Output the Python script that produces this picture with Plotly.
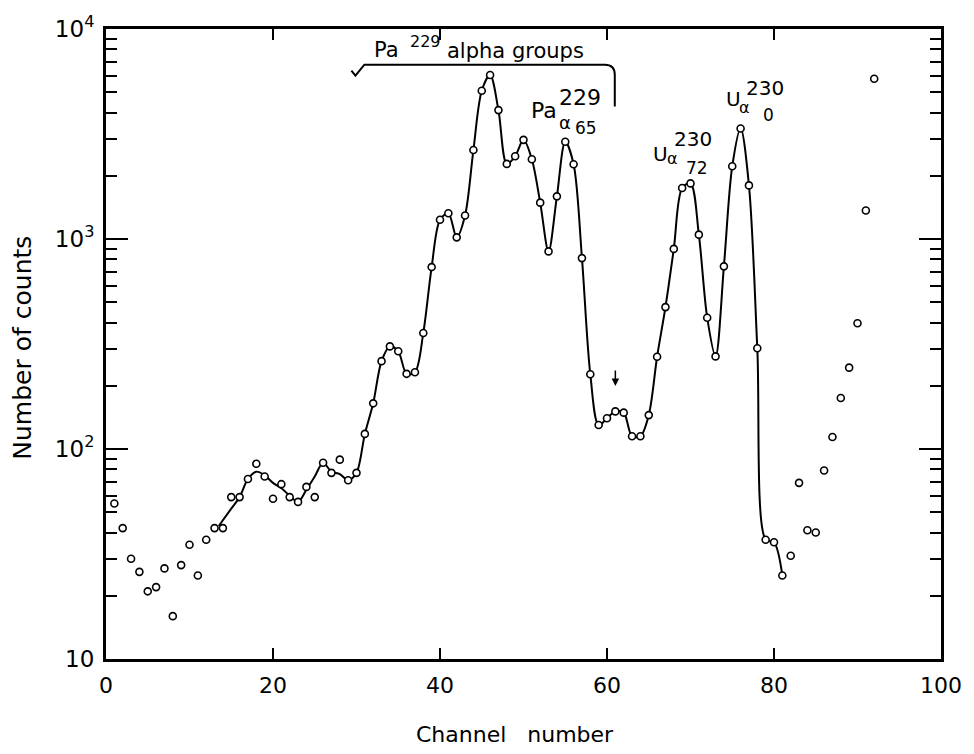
import plotly.graph_objects as go

# ---------------- data ----------------
channels = list(range(1, 93))
counts = [55, 42, 30, 26, 21, 22, 27, 16, 28, 35,
          25, 37, 42, 42, 59, 59, 72, 85, 74, 58,
          68, 59, 56, 66, 59, 86, 77, 89, 71, 77,
          118, 165, 262, 308, 292, 228, 232, 357, 735, 1236,
          1327, 1018, 1294, 2653, 5080, 6040, 4110, 2278, 2478, 2966,
          2397, 1490, 873, 1596, 2904, 2271, 811, 227, 130, 140,
          151, 149, 115, 115, 145, 275, 474, 897, 1750, 1840,
          1049, 422, 276, 741, 2221, 3360, 1800, 302, 37, 36,
          25, 31, 69, 41, 40, 79, 114, 175, 244, 397,
          1366, 5800]

# hand-drawn smooth curve through the spectrum (channel, counts)
curve_ch = [13.5, 15, 16, 17, 18, 19, 20, 21, 22, 23, 24, 25, 26, 27, 28, 29, 30,
            31, 32, 33, 34, 35, 36, 37, 38, 39, 40, 41, 42, 43, 44, 45, 46, 47, 48,
            49, 50, 51, 52, 53, 54, 55, 56, 57, 58, 59, 60, 61, 62, 63, 64, 65, 66,
            67, 68, 69, 70, 71, 72, 73, 74, 75, 76, 77, 78, 79, 80, 81]
curve_val = [43, 52, 59, 72, 78, 75, 69, 65, 60, 56, 64, 74, 86, 78, 76, 71, 77,
             118, 165, 262, 308, 292, 228, 232, 357, 735, 1236, 1327, 1018, 1294, 2653, 5080, 6040, 4110, 2278,
             2478, 2966, 2397, 1490, 873, 1596, 2904, 2271, 811, 227, 130, 140, 151, 149, 115, 115, 145, 275,
             474, 897, 1750, 1840, 1049, 422, 276, 741, 2221, 3360, 1800, 302, 37, 36, 25]

x_ticks = [0, 20, 40, 60, 80, 100]
y_ticks = [10, 100, 1000, 10000]
y_ticktext = ["10", "10<sup>2</sup>", "10<sup>3</sup>", "10<sup>4</sup>"]
y_minor = [m * 10 ** d for d in (1, 2, 3) for m in range(2, 10)]

FONT = "DejaVu Sans"
W, H = 974, 754
L, R, T, B = 106, 31, 24, 95
PW, PH = W - L - R, H - T - B


def px(x):
    return (x - L) / PW


def py(y):
    return (H - B - y) / PH


fig = go.Figure()
fig.add_trace(go.Scatter(x=curve_ch, y=curve_val, mode="lines",
                         line=dict(color="black", width=2, shape="spline", smoothing=0.9),
                         hoverinfo="skip", showlegend=False))
fig.add_trace(go.Scatter(x=channels, y=counts, mode="markers",
                         marker=dict(symbol="circle", size=7, color="white",
                                     line=dict(color="black", width=1.6)),
                         showlegend=False))

fig.update_layout(
    width=W, height=H,
    margin=dict(l=L, r=R, t=T, b=B),
    paper_bgcolor="white", plot_bgcolor="white",
    font=dict(family=FONT, color="black", size=20),
    xaxis=dict(range=[0, 100], tickvals=x_ticks, ticks="inside", ticklen=11, tickwidth=2,
               tickcolor="black", showline=True, linewidth=3, linecolor="black",
               mirror="ticks", showgrid=False, zeroline=False,
               tickfont=dict(size=22, family=FONT), ticklabelstandoff=5),
    yaxis=dict(type="log", range=[1, 4], tickvals=y_ticks, ticktext=y_ticktext,
               ticks="inside", ticklen=22, tickwidth=2, tickcolor="black",
               showline=True, linewidth=3, linecolor="black", mirror="ticks",
               showgrid=False, zeroline=False,
               tickfont=dict(size=23, family=FONT), ticklabelstandoff=4,
               minor=dict(tickvals=y_minor, ticks="inside", ticklen=11, tickwidth=2,
                          tickcolor="black", showgrid=False)),
)

ann = []


def txt(t, x, y, size, xanchor="center", angle=0):
    ann.append(dict(text=t, x=px(x), y=py(y), xref="paper", yref="paper",
                    xanchor=xanchor, yanchor="middle", showarrow=False,
                    textangle=angle, font=dict(size=size, family=FONT, color="black")))


# axis titles
txt("Number of counts", 22, 345, 25, angle=-90)
txt("Channel&nbsp;&nbsp;&nbsp;number", 516, 735, 22)

# top bracket label
txt("Pa", 373, 45, 21, xanchor="left")
txt("229", 409, 37, 16, xanchor="left")
txt("alpha groups", 446, 46, 21, xanchor="left")

# Pa 229 alpha 65
txt("Pa", 545, 106, 22)
txt("229", 581, 93, 22)
txt("α", 566, 118, 18)
txt("65", 587, 124, 17)

# U 230 alpha 72
txt("U", 662, 150, 20)
txt("230", 694, 135, 20)
txt("α", 674, 155, 16)
txt("72", 698, 164, 17)

# U 230 alpha 0
txt("U", 735, 95, 20)
txt("230", 767, 83, 20)
txt("α", 746, 103, 16)
txt("0", 770, 111, 17)

# arrow over channel 61
ann.append(dict(x=61, y=2.30, xref="x", yref="y", text="", showarrow=True,
                ax=0, ay=-17, arrowhead=2, arrowsize=1, arrowwidth=1.5,
                arrowcolor="black"))

fig.update_layout(annotations=ann)

# bracket with check mark
path = (f"M {px(352)},{py(66)} L {px(356)},{py(71)} L {px(365)},{py(60)} "
        f"L {px(606)},{py(60)} Q {px(616)},{py(60)} {px(616)},{py(70)} L {px(616)},{py(102)}")
fig.add_shape(type="path", path=path, xref="paper", yref="paper",
              line=dict(color="black", width=2))

fig.write_html("out.html")
